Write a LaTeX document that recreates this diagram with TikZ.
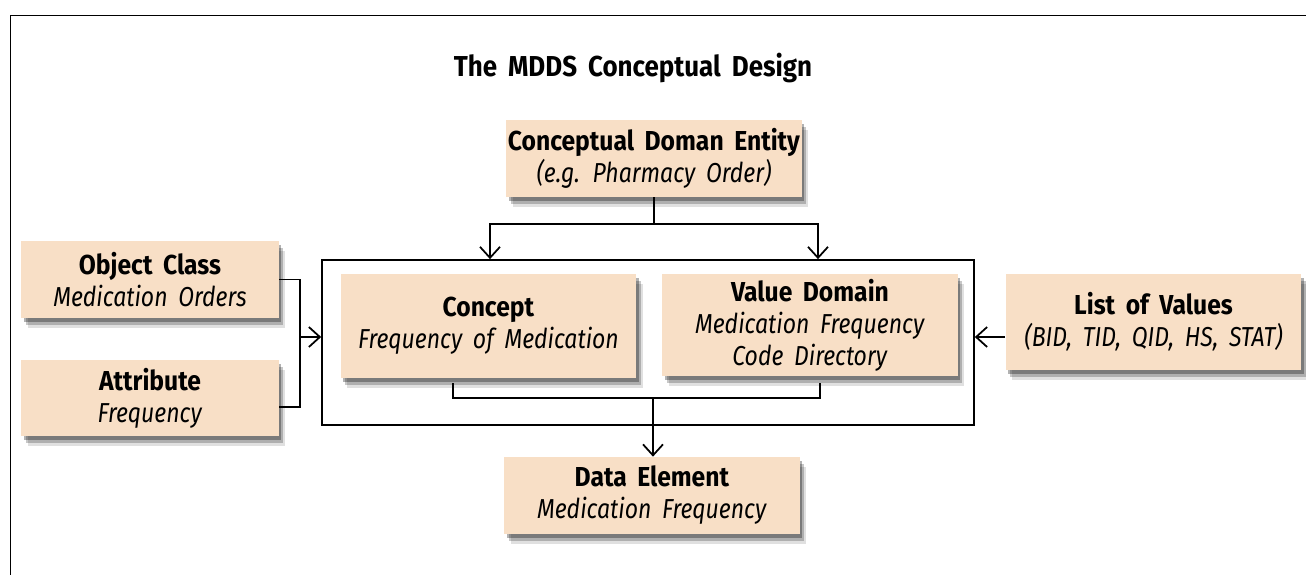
\documentclass[tikz,border=0pt]{standalone}
\usepackage{fontspec}
\setmainfont{Fira Sans}[FakeStretch=0.9, WordSpace=1.8, ItalicFeatures={FakeStretch=0.84}]
\usetikzlibrary{arrows.meta, shadows}
\definecolor{MDDSPeach}{RGB}{248,223,198}
\colorlet{boxbgcolor}{MDDSPeach}

\begin{document}
\begin{tikzpicture}[x=0.02cm, y=-0.02cm,
    mdbox/.style={rectangle, fill=boxbgcolor, align=center, inner sep=0pt,
      minimum width=5.92cm, minimum height=1.54cm,
      font=\fontsize{15.6}{18.2}\selectfont,
      drop shadow={shadow xshift=0.13cm, shadow yshift=-0.2cm, opacity=0.12, fill=black},
      drop shadow={shadow xshift=0.09cm, shadow yshift=-0.14cm, opacity=0.22, fill=black},
      drop shadow={shadow xshift=0.05cm, shadow yshift=-0.08cm, opacity=0.3, fill=black}},
    arr/.style={-{Straight Barb[length=0.22cm, width=0.4cm]}},
    link/.style={line width=1pt}]
  \useasboundingbox (0,0) rectangle (1306,575);
  \draw[line width=0.6pt] (10.5,575) |- (1306,15.7);

  \node[anchor=base, font=\fontsize{16.4}{20}\selectfont\bfseries] at (633,76) (title) {The MDDS Conceptual Design};

  \node[mdbox] at (654,158.5) (cde) {\textbf{Conceptual Doman Entity}\\\textit{(e.g. Pharmacy Order)}};
  \node[draw, link, rectangle, inner sep=0pt, minimum width=13.04cm, minimum height=3.3cm] at (648,342.5) (core) {};
  \node[mdbox, minimum height=2.08cm] at (488.5,326) (concept) {\textbf{Concept}\\\textit{Frequency of Medication}};
  \node[mdbox, minimum height=2.04cm] at (810,325) (vd) {\textbf{Value Domain}\\\textit{Medication Frequency}\\\textit{Code Directory}};
  \node[mdbox, minimum width=5.16cm] at (150,279.5) (oc) {\textbf{Object Class}\\\textit{Medication Orders}};
  \node[mdbox, minimum width=5.16cm] at (150,398) (attr) {\textbf{Attribute}\\\textit{Frequency}};
  \node[mdbox, minimum height=1.92cm] at (1153.5,322) (lov) {\textbf{List of Values}\\\textit{(BID, TID, QID, HS, STAT)}};
  \node[mdbox] at (652,495.5) (de) {\textbf{Data Element}\\\textit{Medication Frequency}};

  \coordinate (tl) at (490,224);
  \coordinate (tr) at (818,224);
  \draw[link, arr] (cde.south) |- (tl) -- (tl |- core.north);
  \draw[link, arr] (cde.south) |- (tr) -- (tr |- core.north);

  \coordinate (bx) at (300,337);
  \draw[link] (oc.east) -| (bx) |- ([yshift=-0.18cm]attr.east);
  \draw[link, arr] (bx) -- (bx -| core.west);

  \coordinate (cb) at (453,383);
  \coordinate (vb) at (820,383);
  \coordinate (jm) at (653,398);
  \draw[link] (cb) |- (jm) -| (vb);
  \draw[link, arr] (jm) -- (jm |- de.north);

  \coordinate (lv) at (1005,337);
  \draw[link, arr] (lv) -- (lv -| core.east);
\end{tikzpicture}
\end{document}
